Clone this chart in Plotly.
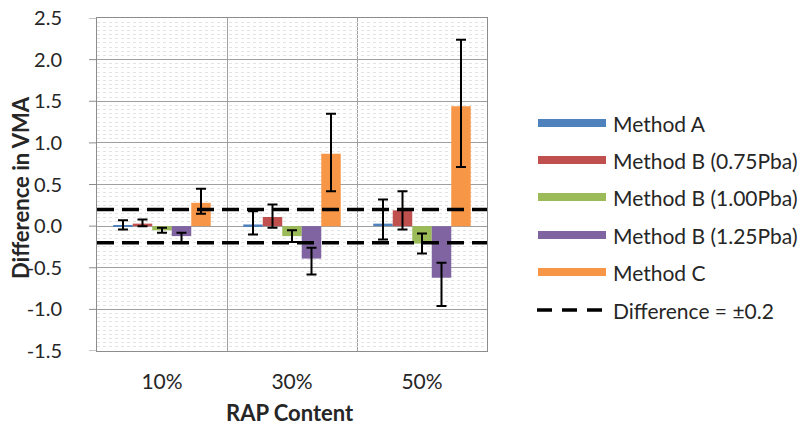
import plotly.graph_objects as go

# ---------------- data ----------------
categories = ["10%", "30%", "50%"]
series_names = ["Method A", "Method B (0.75Pba)", "Method B (1.00Pba)",
                "Method B (1.25Pba)", "Method C"]
method_a = [0.01, 0.02, 0.03]
method_b075 = [0.03, 0.11, 0.19]
method_b100 = [-0.05, -0.12, -0.21]
method_b125 = [-0.12, -0.39, -0.62]
method_c = [0.28, 0.87, 1.44]

err_a_plus = [0.06, 0.16, 0.29]
err_a_minus = [0.05, 0.12, 0.19]
err_b075_plus = [0.05, 0.15, 0.23]
err_b075_minus = [0.03, 0.13, 0.23]
err_b100_plus = [0.03, 0.07, 0.12]
err_b100_minus = [0.03, 0.07, 0.12]
err_b125_plus = [0.04, 0.13, 0.18]
err_b125_minus = [0.08, 0.19, 0.34]
err_c_plus = [0.17, 0.48, 0.80]
err_c_minus = [0.13, 0.45, 0.73]

threshold = 0.2
threshold_label = "Difference = \u00b10.2"
x_title = "RAP Content"
y_title = "Difference in VMA"
y_ticks = [-1.5, -1.0, -0.5, 0.0, 0.5, 1.0, 1.5, 2.0, 2.5]
y_tick_labels = ["-1.5", "-1.0", "-0.5", "0.0", "0.5", "1.0", "1.5", "2.0", "2.5"]

# ---------------- style ----------------
colors = ["#4F81BD", "#C0504D", "#9BBB59", "#8064A2", "#F79646"]
FONT = "Lato"
TXT = "#262626"
AXC = "#8c8c8c"
W_FIG, H_FIG = 809, 428
# plot area in page pixels
L, R, T, B = 97, 487, 18, 351
PW, PH = R - L, B - T


def px2x(px):
    return (px - L) / PW


def px2y(py):
    return (B - py) / PH


values = [method_a, method_b075, method_b100, method_b125, method_c]
plus = [err_a_plus, err_b075_plus, err_b100_plus, err_b125_plus, err_c_plus]
minus = [err_a_minus, err_b075_minus, err_b100_minus, err_b125_minus, err_c_minus]
xpos = list(range(len(categories)))

fig = go.Figure()
for name, vals, p, m, c in zip(series_names, values, plus, minus, colors):
    fig.add_trace(go.Bar(
        x=xpos, y=vals, name=name, marker=dict(color=c, line=dict(width=0)),
        error_y=dict(type="data", symmetric=False, array=p, arrayminus=m,
                     color="black", thickness=2, width=5),
        showlegend=False,
    ))

shapes = []
for s in (threshold, -threshold):
    shapes.append(dict(type="line", xref="paper", yref="y", x0=0, x1=1, y0=s, y1=s,
                       line=dict(color="black", width=3.5, dash="17px,8px"), layer="above"))

# short visible tick marks on the value axis
for v in y_ticks:
    shapes.append(dict(type="line", xref="paper", yref="y", x0=px2x(L - 8), x1=0,
                       y0=v, y1=v, line=dict(color=AXC, width=1)))

# manual legend (long swatches like the original)
annotations = []
row_y = [123, 160, 197, 235, 272, 310]
LEG_FONT = dict(family=FONT, size=21, color=TXT)
for i, (name, c) in enumerate(zip(series_names, colors)):
    yc = row_y[i]
    shapes.append(dict(type="rect", xref="paper", yref="paper",
                       x0=px2x(538), x1=px2x(606), y0=px2y(yc + 4), y1=px2y(yc - 4),
                       fillcolor=c, line=dict(width=0)))
    annotations.append(dict(xref="paper", yref="paper", x=px2x(611), y=px2y(yc),
                            text=name, showarrow=False, xanchor="left", yanchor="middle",
                            font=LEG_FONT))
yc = row_y[-1]
shapes.append(dict(type="line", xref="paper", yref="paper",
                   x0=px2x(537), x1=px2x(603), y0=px2y(yc), y1=px2y(yc),
                   line=dict(color="black", width=3.5, dash="15px,10px")))
annotations.append(dict(xref="paper", yref="paper", x=px2x(611), y=px2y(yc),
                        text=threshold_label, showarrow=False, xanchor="left",
                        yanchor="middle", font=LEG_FONT))

# axis titles
annotations.append(dict(xref="paper", yref="paper", x=px2x(290), y=px2y(412),
                        text="<b>" + x_title + "</b>", showarrow=False,
                        xanchor="center", yanchor="middle",
                        font=dict(family=FONT, size=22, color=TXT)))
annotations.append(dict(xref="paper", yref="paper", x=px2x(20), y=px2y(188),
                        text="<b>" + y_title + "</b>", showarrow=False, textangle=-90,
                        xanchor="center", yanchor="middle",
                        font=dict(family=FONT, size=22, color=TXT)))

fig.update_layout(
    width=W_FIG, height=H_FIG,
    margin=dict(l=L, r=W_FIG - R, t=T, b=H_FIG - B, autoexpand=False),
    paper_bgcolor="white", plot_bgcolor="white",
    barmode="group", bargap=0.25, bargroupgap=0,
    font=dict(family=FONT, size=21, color=TXT),
    shapes=shapes, annotations=annotations,
    showlegend=False,
)
fig.update_xaxes(
    range=[-0.5, 2.5], tickmode="array", tickvals=xpos, ticktext=categories,
    showgrid=False, zeroline=False, showline=True, linecolor=AXC, linewidth=1,
    mirror=True, ticks="", ticklabelstandoff=12,
    tickfont=dict(family=FONT, size=21, color=TXT),
    minor=dict(tickmode="array", tickvals=[0.5, 1.5], showgrid=True,
               gridcolor="#a0a0a0", gridwidth=1, ticks=""),
)
fig.update_yaxes(
    range=[-1.5, 2.5], tickmode="array", tickvals=y_ticks, ticktext=y_tick_labels,
    showgrid=True, gridcolor="#a0a0a0", gridwidth=1, zeroline=False,
    showline=True, linecolor=AXC, linewidth=1, mirror=True,
    ticks="outside", ticklen=30, tickcolor="rgba(0,0,0,0)",
    ticklabeloverflow="allow",
    tickfont=dict(family=FONT, size=20, color=TXT),
    minor=dict(dtick=0.05, showgrid=True, gridcolor="#e3e3e3", griddash="dot",
               gridwidth=1, ticks=""),
)

fig.write_html("out.html",
               config={"displayModeBar": False},
               post_script="document.body.style.margin='0px';"
                           "document.body.style.overflow='hidden';")
